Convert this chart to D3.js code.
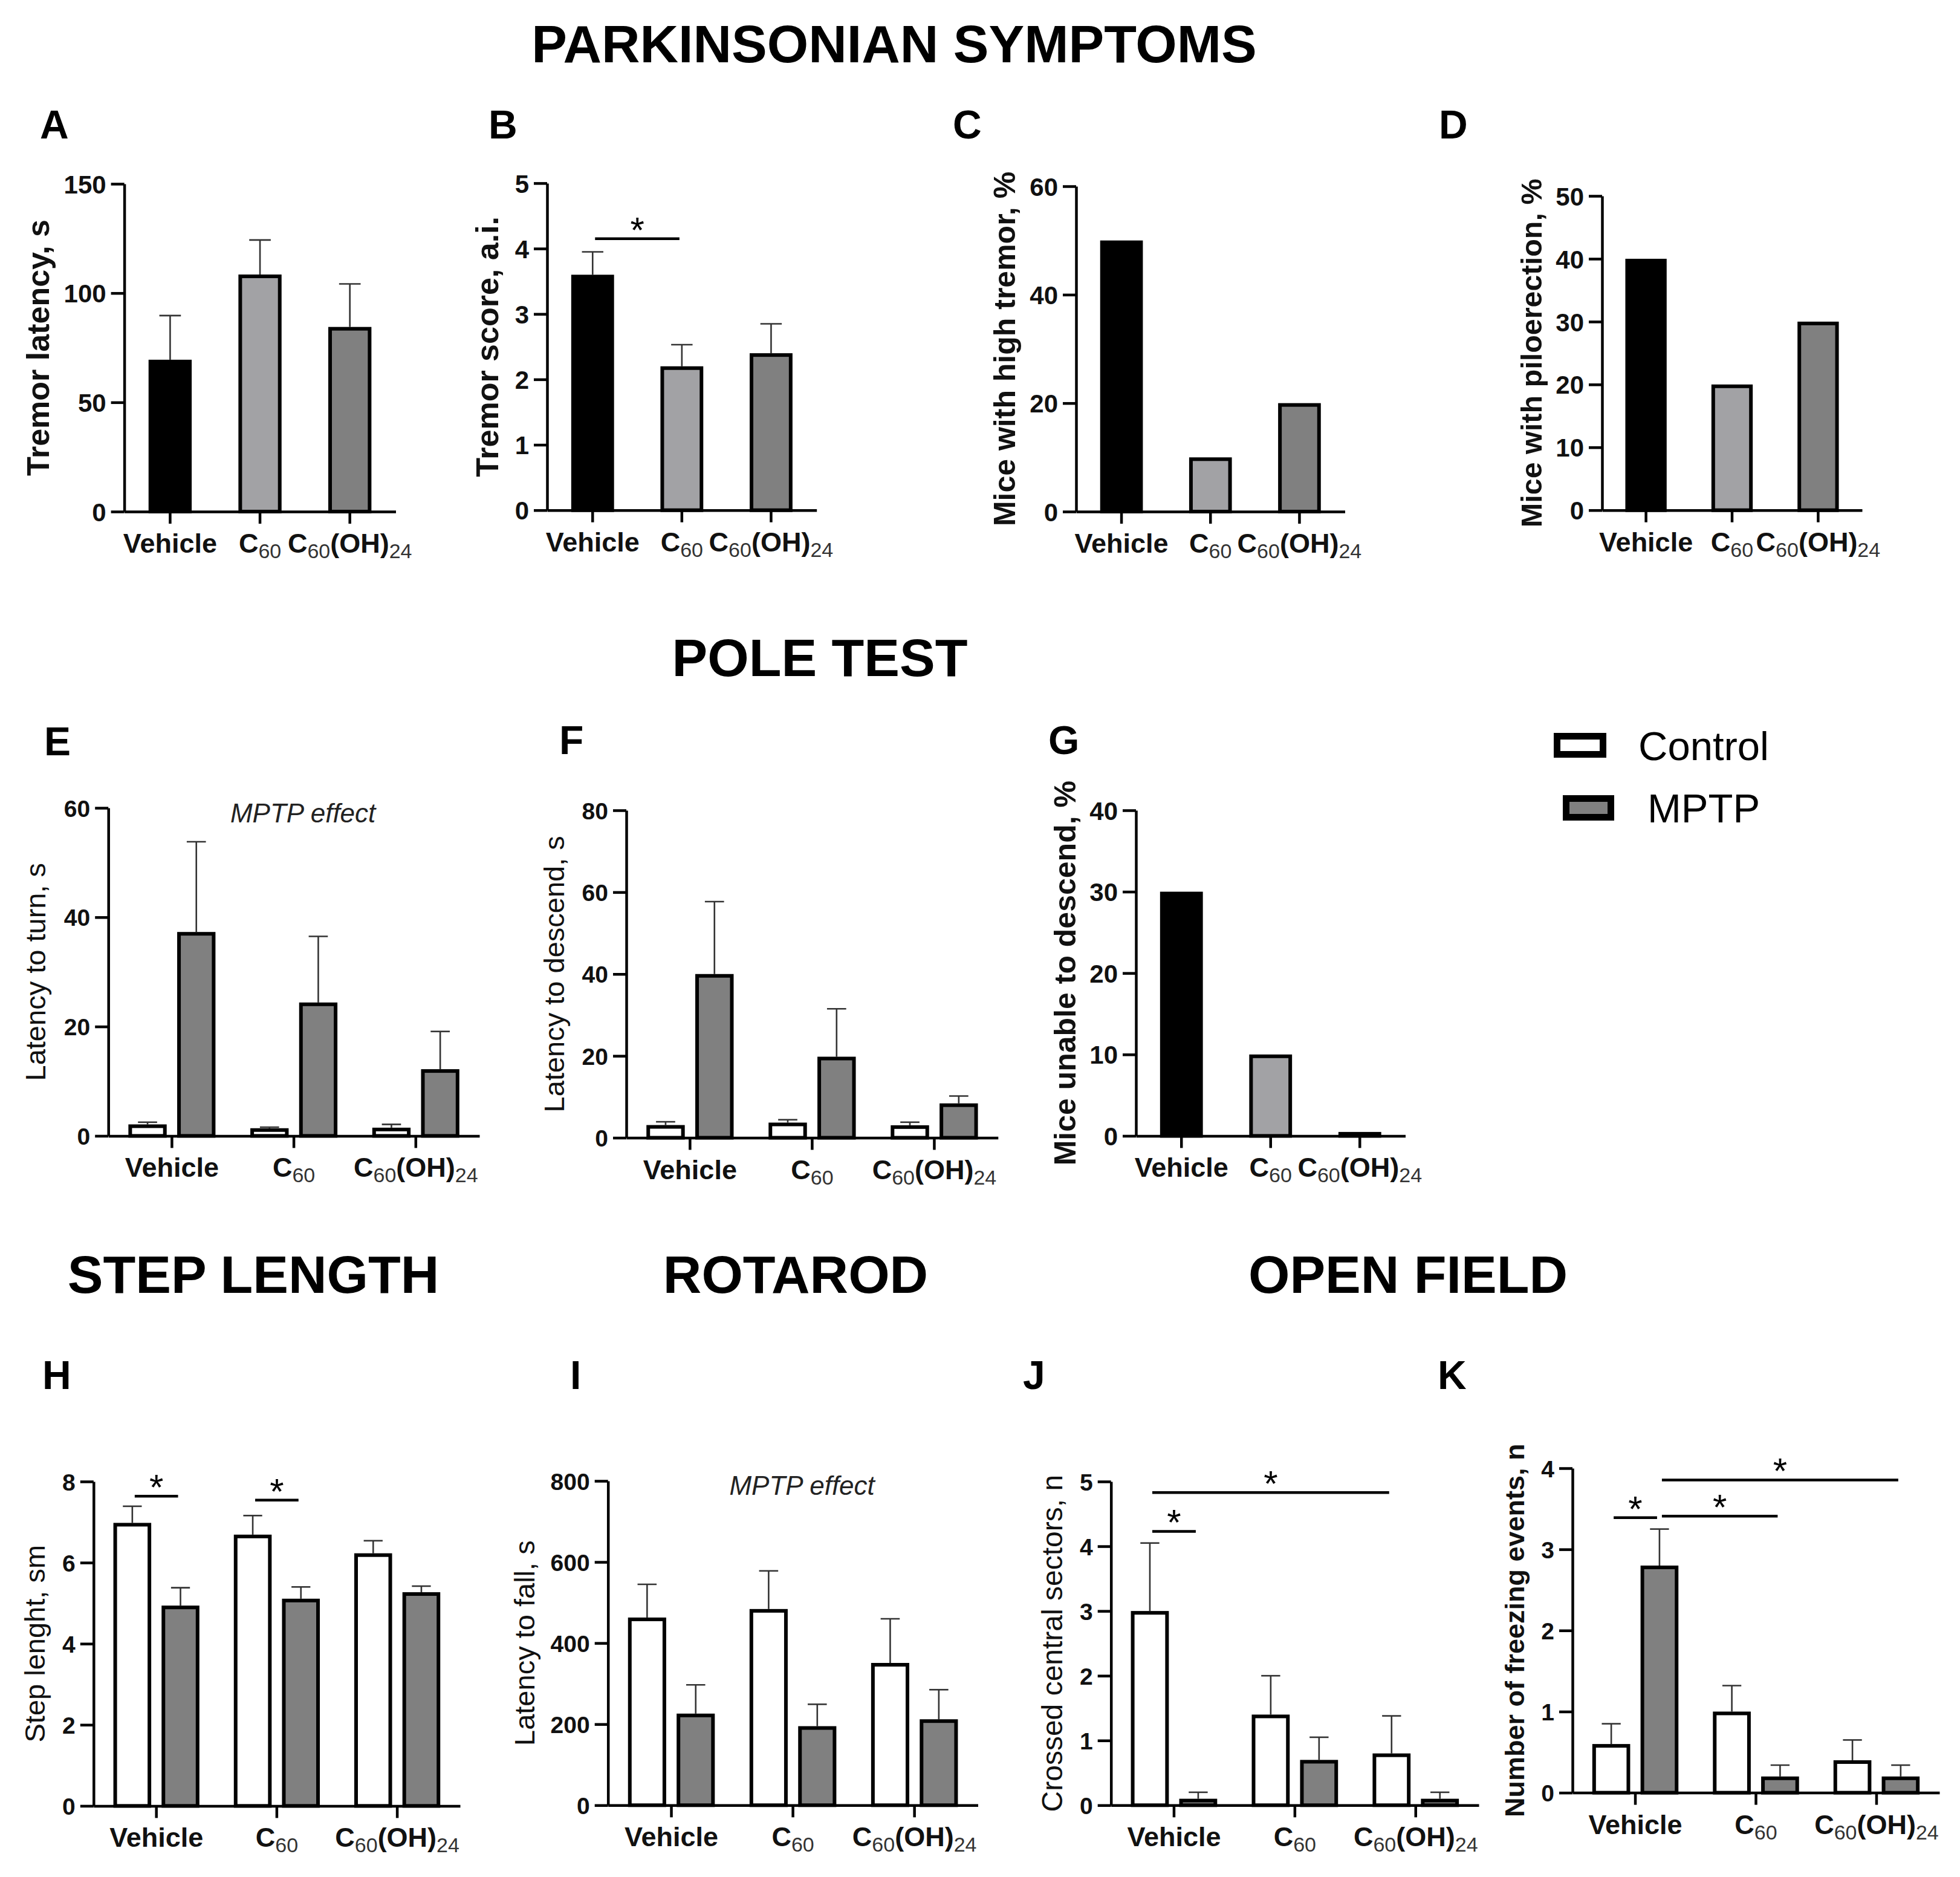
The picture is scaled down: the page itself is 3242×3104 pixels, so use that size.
<!DOCTYPE html>
<html><head><meta charset="utf-8">
<script src="https://cdn.jsdelivr.net/npm/d3@7"></script>
<style>body{margin:0;background:#fff}svg{display:block}</style>
</head><body>
<svg id="c" width="3242" height="3104"></svg>
<script>
// ---------------- DATA ----------------
const categories = ["Vehicle", "C60", "C60(OH)24"];
const groups = ["Control", "MPTP"];

// A  Tremor latency, s
const tremorLatency = [69.5, 108.5, 84.5];
const tremorLatencySem = [20.2, 15.8, 19.7];
const ticksA = [0, 50, 100, 150];
// B  Tremor score, a.i.
const tremorScore = [3.6, 2.2, 2.4];
const tremorScoreSem = [0.35, 0.33, 0.45];
const ticksB = [0, 1, 2, 3, 4, 5];
// C  Mice with high tremor, %
const highTremorPct = [50, 10, 20];
const ticksC = [0, 20, 40, 60];
// D  Mice with piloerection, %
const piloerectionPct = [40, 20, 30];
const ticksD = [0, 10, 20, 30, 40, 50];
// E  Latency to turn, s
const turnControl = [2.1, 1.4, 1.5];
const turnControlSem = [0.4, 0.2, 0.6];
const turnMPTP = [37.3, 24.4, 12.2];
const turnMPTPSem = [16.5, 12.1, 6.9];
const ticksE = [0, 20, 40, 60];
// F  Latency to descend, s
const descendControl = [3.1, 3.7, 3.05];
const descendControlSem = [0.8, 0.7, 0.75];
const descendMPTP = [40, 19.8, 8.4];
const descendMPTPSem = [17.7, 11.7, 1.8];
const ticksF = [0, 20, 40, 60, 80];
// G  Mice unable to descend, %
const unableDescendPct = [30, 10, 0];
const ticksG = [0, 10, 20, 30, 40];
// H  Step lenght, sm
const stepControl = [6.98, 6.69, 6.23];
const stepControlSem = [0.41, 0.47, 0.31];
const stepMPTP = [4.94, 5.11, 5.27];
const stepMPTPSem = [0.44, 0.29, 0.15];
const ticksH = [0, 2, 4, 6, 8];
// I  Latency to fall, s
const fallControl = [463, 484, 351];
const fallControlSem = [82, 94, 109];
const fallMPTP = [226, 195, 212];
const fallMPTPSem = [71, 54, 73];
const ticksI = [0, 200, 400, 600, 800];
// J  Crossed central sectors, n
const centralControl = [3.0, 1.4, 0.8];
const centralControlSem = [1.05, 0.6, 0.58];
const centralMPTP = [0.1, 0.7, 0.1];
const centralMPTPSem = [0.1, 0.35, 0.1];
const ticksJ = [0, 1, 2, 3, 4, 5];
// K  Number of freezing events, n
const freezeControl = [0.6, 1.0, 0.4];
const freezeControlSem = [0.25, 0.32, 0.25];
const freezeMPTP = [2.8, 0.2, 0.2];
const freezeMPTPSem = [0.45, 0.14, 0.14];
const ticksK = [0, 1, 2, 3, 4];

// significance brackets: [from, to, level]; from/to = [categoryIndex, groupIndex]
const sigB = [[[0], [1], 4.15]];
const sigH = [[[0, 0], [0, 1], 7.64], [[1, 0], [1, 1], 7.54]];
const sigJ = [[[0, 0], [0, 1], 4.23], [[0, 0], [2, 0], 4.83]];
const sigK = [[[0, 0], [0, 1], 3.39], [[0, 1], [1, 1], 3.41], [[0, 1], [2, 1], 3.855]];
// "MPTP effect" annotation level
const effectE = 57.3;
const effectI = 765;

const sectionTitles = ["PARKINSONIAN SYMPTOMS", "POLE TEST", "STEP LENGTH", "ROTAROD", "OPEN FIELD"];
const legendLabels = groups;

// ---------------- STYLE / LAYOUT ----------------
const FONT = '"Liberation Sans", Arial, Helvetica, sans-serif';
const catFill = ["#000000", "#a2a2a5", "#808080"];
const groupFill = ["#ffffff", "#808080"];
const BS = 6;        // bar stroke
const AX = 4.5;      // axis stroke

const svg = d3.select("#c");

const panels = [
  {L:"A", lx:66, ly:229, x0:205.6, x1:654.5, yTop:304, y0:846, ticks:ticksA, values:tremorLatency, sem:tremorLatencySem,
   title:"Tremor latency, s", tx:62.5, tb:true, ts:52, tf:42},
  {L:"B", lx:808, ly:229, x0:905, x1:1350.7, yTop:302.9, y0:843.7, ticks:ticksB, values:tremorScore, sem:tremorScoreSem,
   title:"Tremor score, a.i.", tx:805.6, tb:true, ts:52, tf:42, sig:sigB},
  {L:"C", lx:1576, ly:229, x0:1780, x1:2224.5, yTop:308, y0:846, ticks:ticksC, values:highTremorPct,
   title:"Mice with high tremor, %", tx:1660.7, tb:true, ts:50, tf:42},
  {L:"D", lx:2380, ly:229, x0:2650, x1:3080, yTop:324, y0:843.7, ticks:ticksD, values:piloerectionPct,
   title:"Mice with piloerection, %", tx:2533, tb:true, ts:48.5, tf:42},
  {L:"E", lx:73, ly:1249, x0:179.2, x1:793, yTop:1336, y0:1878.4, ticks:ticksE,
   series:[turnControl, turnMPTP], sems:[turnControlSem, turnMPTPSem],
   title:"Latency to turn, s", tx:58.3, tb:false, ts:47, tf:39, effect:effectE},
  {L:"F", lx:925, ly:1247, x0:1036, x1:1650.8, yTop:1340, y0:1881.5, ticks:ticksF,
   series:[descendControl, descendMPTP], sems:[descendControlSem, descendMPTPSem],
   title:"Latency to descend, s", tx:916, tb:false, ts:47, tf:39},
  {L:"G", lx:1734, ly:1247, x0:1879, x1:2324.5, yTop:1340, y0:1878.4, ticks:ticksG, values:unableDescendPct,
   title:"Mice unable to descend, %", tx:1760.7, tb:true, ts:50, tf:42},
  {L:"H", lx:70, ly:2297, x0:154.8, x1:761, yTop:2450, y0:2986.4, ticks:ticksH,
   series:[stepControl, stepMPTP], sems:[stepControlSem, stepMPTPSem],
   title:"Step lenght, sm", tx:56.6, tb:false, ts:47, tf:39, sig:sigH},
  {L:"I", lx:943, ly:2297, x0:1005.7, x1:1617.5, yTop:2449, y0:2985.3, ticks:ticksI,
   series:[fallControl, fallMPTP], sems:[fallControlSem, fallMPTPSem],
   title:"Latency to fall, s", tx:867, tb:false, ts:47, tf:39, effect:effectI},
  {L:"J", lx:1692, ly:2297, x0:1837.7, x1:2446, yTop:2450, y0:2985.3, ticks:ticksJ,
   series:[centralControl, centralMPTP], sems:[centralControlSem, centralMPTPSem],
   title:"Crossed central sectors, n", tx:1739.7, tb:false, ts:48, tf:39, sig:sigJ},
  {L:"K", lx:2378, ly:2297, x0:2601, x1:3208, yTop:2428, y0:2964.6, ticks:ticksK,
   series:[freezeControl, freezeMPTP], sems:[freezeControlSem, freezeMPTPSem],
   title:"Number of freezing events, n", tx:2505, tb:true, ts:45, tf:39, sig:sigK}
];

function labelParts(s) {
  const parts = []; const re = /(\d+)|([^\d]+)/g; let m;
  while ((m = re.exec(s))) parts.push([m[0], !!m[1]]);
  return parts;
}

function drawPanel(p) {
  const g = svg.append("g");
  const y = d3.scaleLinear().domain([0, d3.max(p.ticks)]).range([p.y0, p.yTop]);
  let xOuter, xInner = null;
  const bars = [];
  if (p.series) {
    xOuter = d3.scaleBand().domain(categories).range([p.x0, p.x1]).paddingInner(0).paddingOuter(0.0215);
    xInner = d3.scaleBand().domain(groups).range([0, xOuter.bandwidth()]).paddingInner(0.215).paddingOuter(0.3575);
    groups.forEach((s, si) => categories.forEach((c, ci) => bars.push({
      ci, si, x: xOuter(c) + xInner(s), w: xInner.bandwidth(), v: p.series[si][ci],
      e: p.sems ? p.sems[si][ci] : null, fill: groupFill[si]})));
  } else {
    xOuter = d3.scaleBand().domain(categories).range([p.x0, p.x1]).paddingInner(0.52).paddingOuter(0.27);
    categories.forEach((c, ci) => bars.push({
      ci, si: 0, x: xOuter(c), w: xOuter.bandwidth(), v: p.values[ci],
      e: p.sem ? p.sem[ci] : null, fill: catFill[ci]}));
  }
  const cx = d => d.x + d.w / 2;

  // error bars
  const eb = bars.filter(d => d.e != null);
  g.selectAll("line.ev").data(eb).join("line")
    .attr("x1", cx).attr("x2", cx).attr("y1", d => y(d.v)).attr("y2", d => y(d.v + d.e))
    .attr("stroke", "#333").attr("stroke-width", 2.6);
  g.selectAll("line.ec").data(eb).join("line")
    .attr("x1", d => cx(d) - d.w * 0.25).attr("x2", d => cx(d) + d.w * 0.25)
    .attr("y1", d => y(d.v + d.e)).attr("y2", d => y(d.v + d.e))
    .attr("stroke", "#333").attr("stroke-width", 2.6);

  // bars
  g.selectAll("rect.bar").data(bars).join("rect")
    .attr("x", d => d.x + BS / 2).attr("width", d => d.w - BS)
    .attr("y", d => Math.min(y(d.v) + BS / 2, p.y0 - BS / 2 - 0.5))
    .attr("height", d => p.y0 - Math.min(y(d.v) + BS / 2, p.y0 - BS / 2 - 0.5))
    .attr("fill", d => d.fill).attr("stroke", "#000").attr("stroke-width", BS);

  // y axis
  const yg = g.append("g").attr("transform", `translate(${p.x0},0)`)
    .call(d3.axisLeft(y).tickValues(p.ticks).tickSize(22).tickSizeOuter(0).tickPadding(8).tickFormat(d3.format("d")));
  yg.select(".domain").attr("stroke", "#000").attr("stroke-width", AX);
  yg.selectAll(".tick line").attr("stroke", "#000").attr("stroke-width", AX);
  yg.selectAll(".tick text").attr("font-family", FONT).attr("font-size", p.tf)
    .attr("font-weight", "bold").attr("fill", "#111").attr("dy", "0.36em");

  // x axis
  const xg = g.append("g").attr("transform", `translate(0,${p.y0})`)
    .call(d3.axisBottom(xOuter).tickSize(20).tickSizeOuter(0).tickFormat(""));
  xg.select(".domain").attr("stroke", "#000").attr("stroke-width", AX);
  xg.selectAll(".tick line").attr("stroke", "#000").attr("stroke-width", AX);
  xg.selectAll(".tick text").remove();
  xg.selectAll(".tick").each(function (d) {
    const t = d3.select(this).append("text").attr("y", 68).attr("text-anchor", "middle")
      .attr("font-family", FONT).attr("font-size", 45).attr("font-weight", "bold").attr("fill", "#111");
    let shifted = false;
    labelParts(d).forEach(([txt, sub]) => {
      const ts = t.append("tspan").text(txt);
      if (sub) {
        ts.attr("font-size", 34).attr("font-weight", "normal").attr("fill", "#333").attr("dy", shifted ? 0 : 9);
        shifted = true;
      } else {
        ts.attr("dy", shifted ? -9 : 0);
        shifted = false;
      }
    });
  });

  // y title
  svg.append("text").attr("transform", `translate(${p.tx},${(p.y0 + p.yTop) / 2}) rotate(-90)`)
    .attr("text-anchor", "middle").attr("dy", "0.36em").attr("font-family", FONT)
    .attr("font-size", p.ts).attr("font-weight", p.tb ? "bold" : "normal").attr("fill", "#111")
    .text(p.title);

  // panel letter
  svg.append("text").attr("x", p.lx).attr("y", p.ly).attr("font-family", FONT)
    .attr("font-size", 66).attr("font-weight", "bold").attr("fill", "#000").text(p.L);

  // significance
  if (p.sig) {
    const find = a => bars.find(b => b.ci === a[0] && b.si === (a.length > 1 ? a[1] : 0));
    p.sig.forEach(([f, t, lv]) => {
      const xa = cx(find(f)) + 4, xb = cx(find(t)) - 4, yy = y(lv);
      g.append("line").attr("x1", xa).attr("x2", xb).attr("y1", yy).attr("y2", yy)
        .attr("stroke", "#000").attr("stroke-width", 4.5);
      g.append("text").attr("x", (xa + xb) / 2).attr("y", yy + 6).attr("text-anchor", "middle")
        .attr("font-family", FONT).attr("font-size", 60).attr("fill", "#000").text("*");
    });
  }
  // MPTP effect
  if (p.effect != null) {
    g.append("text").attr("x", xOuter(categories[1]) + xOuter.bandwidth() / 2 + 15).attr("y", y(p.effect))
      .attr("text-anchor", "middle").attr("font-family", FONT).attr("font-size", 44)
      .attr("font-style", "italic").attr("fill", "#222").text("MPTP effect");
  }
}

panels.forEach(drawPanel);

// section titles
const titlePos = [[1479, 103], [1356, 1118], [419, 2138], [1316, 2138], [2329, 2138]];
svg.selectAll("text.sec").data(sectionTitles).join("text")
  .attr("x", (d, i) => titlePos[i][0]).attr("y", (d, i) => titlePos[i][1])
  .attr("text-anchor", "middle").attr("font-family", FONT).attr("font-size", 88)
  .attr("font-weight", "bold").attr("fill", "#000").text(d => d);

// legend
const legPos = [{bx:2575.5, by:1217.5, bw:76, bh:30, tx:2710, ty:1257}, {bx:2590.5, by:1320.5, bw:74, bh:31, tx:2725, ty:1360}];
const lg = svg.append("g");
lg.selectAll("rect").data(legendLabels).join("rect")
  .attr("x", (d, i) => legPos[i].bx).attr("y", (d, i) => legPos[i].by)
  .attr("width", (d, i) => legPos[i].bw).attr("height", (d, i) => legPos[i].bh)
  .attr("fill", (d, i) => groupFill[i]).attr("stroke", "#000").attr("stroke-width", 11);
lg.selectAll("text").data(legendLabels).join("text")
  .attr("x", (d, i) => legPos[i].tx).attr("y", (d, i) => legPos[i].ty)
  .attr("font-family", FONT).attr("font-size", 67).attr("fill", "#000").text(d => d);
</script>
</body></html>
